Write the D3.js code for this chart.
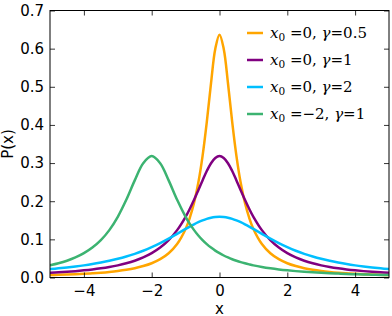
<!DOCTYPE html>
<html><head><meta charset="utf-8">
<script src="https://cdn.jsdelivr.net/npm/d3@7"></script>
<style>body{margin:0;background:#fff}svg{display:block}</style>
</head><body>
<svg id="c" width="392" height="316"></svg>
<script>
const xs = [-5,-4.75,-4.5,-4.25,-4,-3.75,-3.5,-3.25,-3,-2.75,-2.5,-2.25,-2,-1.75,-1.5,-1.25,
  -1,-0.875,-0.75,-0.625,-0.5,-0.375,-0.25,-0.125,0,0.125,0.25,0.375,0.5,0.625,0.75,0.875,
  1,1.25,1.5,1.75,2,2.25,2.5,2.75,3,3.25,3.5,3.75,4,4.25,4.5,4.75,5];
const seriesA = [.0063,.0070,.0078,.0087,.0098,.0111,.0127,.0147,.0172,.0204,.0245,.0300,.0374,.0480,.0637,.0878,
  .1273,.1567,.1959,.2484,.3183,.4074,.5093,.5992,.6366,.5992,.5093,.4074,.3183,.2484,.1959,.1567,
  .1273,.0878,.0637,.0480,.0374,.0300,.0245,.0204,.0172,.0147,.0127,.0111,.0098,.0087,.0078,.0070,.0063];
const seriesB = [.0122,.0135,.0150,.0167,.0187,.0211,.0240,.0275,.0318,.0372,.0439,.0525,.0637,.0784,.0979,.1242,
  .1592,.1803,.2037,.2289,.2546,.2791,.2996,.3134,.3183,.3134,.2996,.2791,.2546,.2289,.2037,.1803,
  .1592,.1242,.0979,.0784,.0637,.0525,.0439,.0372,.0318,.0275,.0240,.0211,.0187,.0167,.0150,.0135,.0122];
const seriesC = [.0220,.0240,.0263,.0289,.0318,.0352,.0392,.0437,.0490,.0551,.0621,.0702,.0796,.0901,.1019,.1145,
  .1273,.1336,.1395,.1450,.1498,.1538,.1567,.1585,.1592,.1585,.1567,.1538,.1498,.1450,.1395,.1336,
  .1273,.1145,.1019,.0901,.0796,.0702,.0621,.0551,.0490,.0437,.0392,.0352,.0318,.0289,.0263,.0240,.0220];
const seriesD = [.0318,.0372,.0439,.0525,.0637,.0784,.0979,.1242,.1592,.2037,.2546,.2996,.3183,.2996,.2546,.2037,
  .1592,.1405,.1242,.1101,.0979,.0874,.0784,.0705,.0637,.0577,.0525,.0479,.0439,.0403,.0372,.0344,
  .0318,.0275,.0240,.0211,.0187,.0167,.0150,.0135,.0122,.0111,.0102,.0093,.0086,.0079,.0074,.0068,.0064];
const labels = [["0","0.5"],["0","1"],["0","2"],["\u22122","1"]];
const colors = ["#ffa500","#800080","#00bfff","#3cb371"];
const xTicks = [-4,-2,0,2,4];
const yTicks = [0,0.1,0.2,0.3,0.4,0.5,0.6,0.7];

const svg = d3.select("#c");
const L=50, R=389, T=10.5, B=277.5;
const x = d3.scaleLinear().domain([-5,5]).range([L,R]);
const y = d3.scaleLinear().domain([0,0.7]).range([B,T]);

svg.append("clipPath").attr("id","clip").append("rect")
  .attr("x",L).attr("y",T).attr("width",R-L).attr("height",B-T);

const allSeries=[seriesA,seriesB,seriesC,seriesD];
const line = d3.line().x((d,i)=>x(xs[i])).y(d=>y(d)).curve(d3.curveCatmullRom.alpha(0.5));
const g = svg.append("g").attr("clip-path","url(#clip)");
allSeries.forEach((s,k)=>{
  g.append("path").datum(s).attr("d",line).attr("fill","none")
   .attr("stroke",colors[k]).attr("stroke-width",2.5).attr("stroke-linejoin","round");
});

const fmt = d=> d<0 ? "\u2212"+Math.abs(d) : ""+d;
const tickStyle = sel=>{sel.select(".domain").remove();
  sel.selectAll("line").attr("stroke","#000").attr("stroke-width",0.8);
  sel.selectAll("text").attr("font-family","DejaVu Sans").attr("font-size","15px").attr("fill","#000");};
svg.append("g").attr("transform",`translate(0,${B})`)
  .call(d3.axisBottom(x).tickValues(xTicks).tickSize(-5).tickPadding(8).tickFormat(fmt)).call(tickStyle);
svg.append("g").attr("transform",`translate(0,${T})`)
  .call(d3.axisTop(x).tickValues(xTicks).tickSize(-5).tickFormat("")).call(tickStyle);
svg.append("g").attr("transform",`translate(${L},0)`)
  .call(d3.axisLeft(y).tickValues(yTicks).tickSize(-5).tickPadding(6).tickFormat(d3.format(".1f"))).call(tickStyle);
svg.append("g").attr("transform",`translate(${R},0)`)
  .call(d3.axisRight(y).tickValues(yTicks).tickSize(-5).tickFormat("")).call(tickStyle);

svg.append("rect").attr("x",L).attr("y",T).attr("width",R-L).attr("height",B-T)
  .attr("fill","none").attr("stroke","#000").attr("stroke-width",1);

svg.append("text").attr("x",(L+R)/2).attr("y",313.5).attr("text-anchor","middle")
  .attr("font-family","DejaVu Sans").attr("font-size","15px").text("x");
svg.append("text").attr("transform",`translate(13,${(T+B)/2}) rotate(-90)`).attr("text-anchor","middle")
  .attr("font-family","DejaVu Sans").attr("font-size","15px").text("P(x)");

// legend
const lg = svg.append("g");
labels.forEach((lb,k)=>{
  const yy = 33 + k*27;
  lg.append("line").attr("x1",247).attr("x2",263).attr("y1",yy).attr("y2",yy)
    .attr("stroke",colors[k]).attr("stroke-width",2.5);
  const t = lg.append("text").attr("x",270).attr("y",yy+4.5)
    .attr("font-family","DejaVu Serif").attr("font-size","15px");
  t.append("tspan").attr("font-style","italic").text("x");
  t.append("tspan").attr("font-size","10.5px").attr("dy",3).text("0");
  t.append("tspan").attr("dy",-3).text(" =" + lb[0] + ", ");
  t.append("tspan").attr("font-style","italic").text("\u03b3");
  t.append("tspan").text("=" + lb[1]);
});
</script>
</body></html>
